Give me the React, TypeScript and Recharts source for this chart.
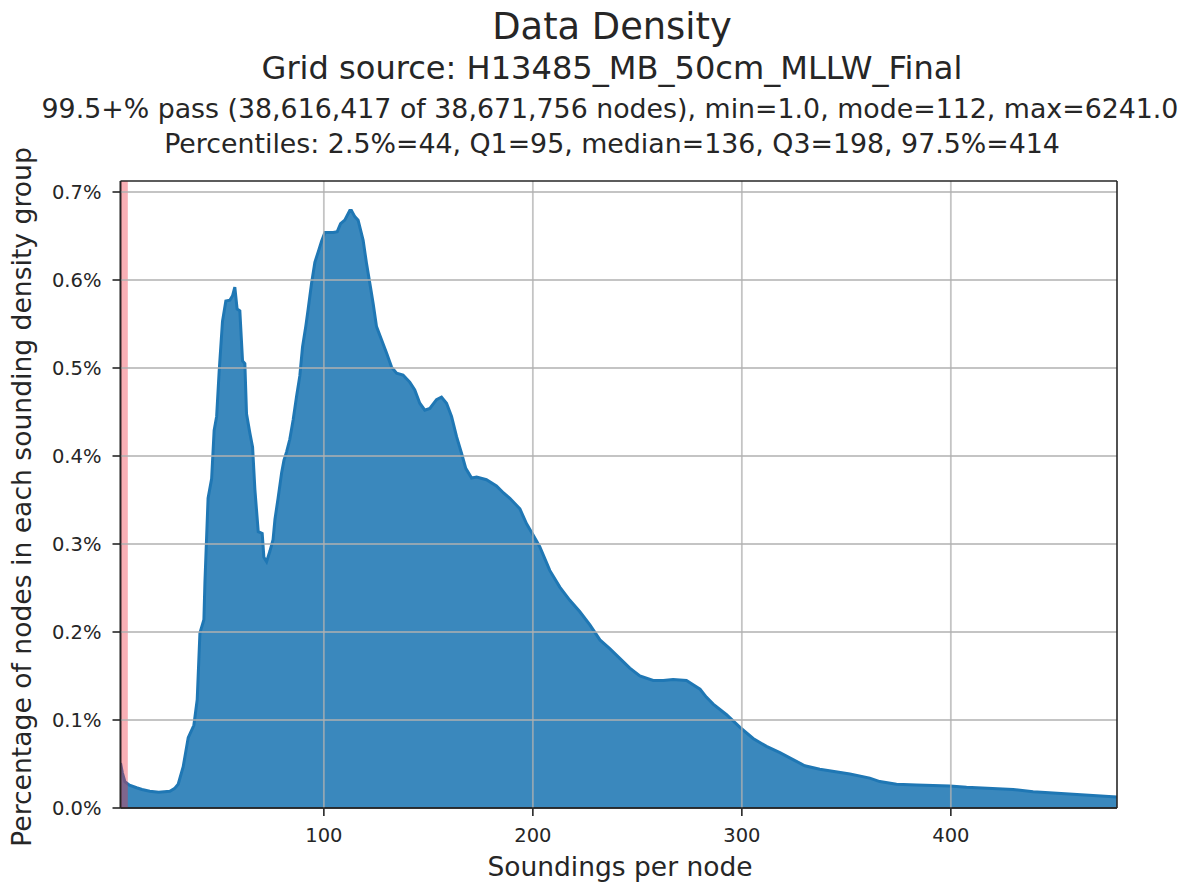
import { AreaChart, Area, XAxis, YAxis, ReferenceLine, ReferenceArea } from 'recharts';

// soundings per node (bin position) and percent of nodes in that bin
const soundings = [
  2.7, 3.6, 4.8, 7, 10.4, 13, 16.7, 21, 26.3, 28.5, 30.3, 32.7, 35.1, 37.8, 39.4, 40.7,
  42.6, 43.1, 44.6, 46.3, 47.5, 48.7, 49.9, 51.5, 53.1, 55, 56.3, 57.4, 58.5, 59.8,
  61.1, 62.2, 63, 64.6, 65.9, 67, 68.6, 70.5, 71.3, 72.6, 74.2, 75.7, 76.6, 78.1,
  79.8, 80.9, 82.2, 83.7, 85.3, 86.9, 88.5, 89.8, 91.4, 92.5, 94.1, 95.7, 97.3,
  98.9, 100.5, 104.5, 106.4, 108, 110, 112.4, 113.2, 114.8, 116.4, 118.8, 120.4,
  122.3, 123.6, 125.2, 127.6, 130, 132.4, 134.8, 137.9, 141.1, 143.5, 145.9, 148.3,
  150.7, 153.9, 156.3, 158.7, 161.1, 163.5, 165.9, 167.9, 170.7, 173.1, 177.8,
  182.6, 186, 189, 193.8, 197, 200.2, 203.3, 208.1, 212.9, 217.7, 222.5, 227.3,
  232.1, 236.8, 241.6, 246.4, 251.2, 257.6, 262.4, 267.1, 273.5, 276.7, 280, 283,
  286.3, 292.7, 299, 305.4, 311.8, 318.2, 324.5, 330.1, 337.3, 351.7, 361.2, 366,
  374, 383.6, 399.5, 407.5, 429.8, 439.4, 458.5, 479.5,
];
const pctNodes = [
  0.051, 0.04, 0.03, 0.026, 0.023, 0.021, 0.019, 0.018, 0.019, 0.022, 0.027, 0.047,
  0.08, 0.094, 0.123, 0.199, 0.214, 0.257, 0.352, 0.374, 0.429, 0.445, 0.496, 0.553,
  0.576, 0.577, 0.582, 0.592, 0.567, 0.565, 0.508, 0.505, 0.448, 0.426, 0.41, 0.362,
  0.314, 0.312, 0.285, 0.28, 0.292, 0.305, 0.328, 0.352, 0.381, 0.395, 0.405, 0.419,
  0.441, 0.467, 0.491, 0.524, 0.548, 0.567, 0.596, 0.62, 0.632, 0.644, 0.654, 0.654,
  0.655, 0.664, 0.668, 0.679, 0.679, 0.672, 0.668, 0.645, 0.619, 0.592, 0.573, 0.547,
  0.532, 0.517, 0.501, 0.494, 0.492, 0.484, 0.475, 0.46, 0.452, 0.454, 0.464, 0.467,
  0.46, 0.445, 0.422, 0.403, 0.386, 0.375, 0.376, 0.373, 0.366, 0.358, 0.352, 0.34,
  0.323, 0.31, 0.297, 0.27, 0.251, 0.236, 0.223, 0.208, 0.191, 0.181, 0.17, 0.159,
  0.15, 0.145, 0.145, 0.146, 0.145, 0.14, 0.135, 0.126, 0.118, 0.106, 0.092, 0.079,
  0.07, 0.063, 0.055, 0.048, 0.044, 0.0386, 0.034, 0.03, 0.027, 0.026, 0.025, 0.0235,
  0.021, 0.0185, 0.0155, 0.0125,
];

const xTicks = [100, 200, 300, 400];
const yTicks = [0, 0.1, 0.2, 0.3, 0.4, 0.5, 0.6, 0.7];

const titleLines = [
  'Data Density',
  'Grid source: H13485_MB_50cm_MLLW_Final',
  '99.5+% pass (38,616,417 of 38,671,756 nodes), min=1.0, mode=112, max=6241.0',
  'Percentiles: 2.5%=44, Q1=95, median=136, Q3=198, 97.5%=414',
];
const xLabel = 'Soundings per node';
const yLabel = 'Percentage of nodes in each sounding density group';

const X_MIN = 2.7;
const X_MAX = 479.5;
const Y_MAX = 0.7125;
const LOW_DENSITY_END = 6.2;

const data = soundings.map((x, i) => ({ x, pct: pctNodes[i] }));

const INK = '#262626';
const GRID = '#b0b0b0';
const W = 1180;
const H = 878;

export default function App() {
  return (
    <div style={{ position: 'relative', width: W, height: H, fontFamily: '"DejaVu Sans", sans-serif' }}>
      <AreaChart width={W} height={H} data={data} margin={{ top: 173, right: 71, bottom: 0, left: 0 }}>
        <XAxis
          dataKey="x"
          type="number"
          domain={[X_MIN, X_MAX]}
          ticks={xTicks}
          allowDataOverflow
          height={78}
          tickSize={8}
          tickMargin={12}
          tick={{ fill: INK, fontSize: 19.5 }}
          tickLine={{ stroke: INK, strokeWidth: 1.6 }}
          axisLine={{ stroke: INK, strokeWidth: 1.6 }}
        />
        <YAxis
          type="number"
          domain={[0, Y_MAX]}
          ticks={yTicks}
          allowDataOverflow
          width={112.5}
          tickSize={8}
          tickMargin={11}
          tickFormatter={(v: number) => `${v.toFixed(1)}%`}
          tick={{ fill: INK, fontSize: 19.5 }}
          tickLine={{ stroke: INK, strokeWidth: 1.6 }}
          axisLine={{ stroke: INK, strokeWidth: 1.6 }}
        />
        <Area
          type="linear"
          dataKey="pct"
          stroke="#1f77b4"
          strokeWidth={3}
          fill="#1f77b4"
          fillOpacity={0.88}
          isAnimationActive={false}
          dot={false}
          activeDot={false}
        />
      </AreaChart>

      {/* second chart on the same scales, stacked on top so the grid and the pink band sit over the fill */}
      <div style={{ position: 'absolute', left: 0, top: 0, pointerEvents: 'none' }}>
        <AreaChart width={W} height={H} data={data} margin={{ top: 173, right: 71, bottom: 78, left: 112.5 }}>
          <XAxis dataKey="x" type="number" domain={[X_MIN, X_MAX]} allowDataOverflow hide />
          <YAxis type="number" domain={[0, Y_MAX]} allowDataOverflow hide />
          <ReferenceArea
            x1={X_MIN}
            x2={LOW_DENSITY_END}
            y1={0}
            y2={Y_MAX}
            fill="#f03040"
            fillOpacity={0.38}
            stroke="none"
          />
          {xTicks.map((t) => (
            <ReferenceLine key={`gx${t}`} x={t} stroke={GRID} strokeOpacity={0.75} strokeWidth={1.8} />
          ))}
          {yTicks.slice(1).map((t) => (
            <ReferenceLine key={`gy${t}`} y={t} stroke={GRID} strokeOpacity={0.75} strokeWidth={1.8} />
          ))}
          <ReferenceLine y={Y_MAX} stroke={INK} strokeWidth={1.6} />
          <ReferenceLine x={X_MAX} stroke={INK} strokeWidth={1.6} />
          <ReferenceLine x={X_MIN} stroke={INK} strokeWidth={1.6} />
          <ReferenceLine y={0} stroke={INK} strokeWidth={1.6} />
        </AreaChart>
      </div>

      <svg
        width={1188}
        height={886}
        style={{ position: 'absolute', left: -8, top: -8, pointerEvents: 'none' }}
      >
        <g fill={INK} textAnchor="middle">
          <text x={612} y={39} fontSize={36.8}>{titleLines[0]}</text>
          <text x={612} y={79} fontSize={32.1}>{titleLines[1]}</text>
          <text x={610} y={118} fontSize={26.8}>{titleLines[2]}</text>
          <text x={612} y={153} fontSize={26.8}>{titleLines[3]}</text>
          <text x={620} y={876} fontSize={26.5}>{xLabel}</text>
          <text transform="translate(31,497) rotate(-90)" fontSize={26.6}>{yLabel}</text>
        </g>
      </svg>
    </div>
  );
}
